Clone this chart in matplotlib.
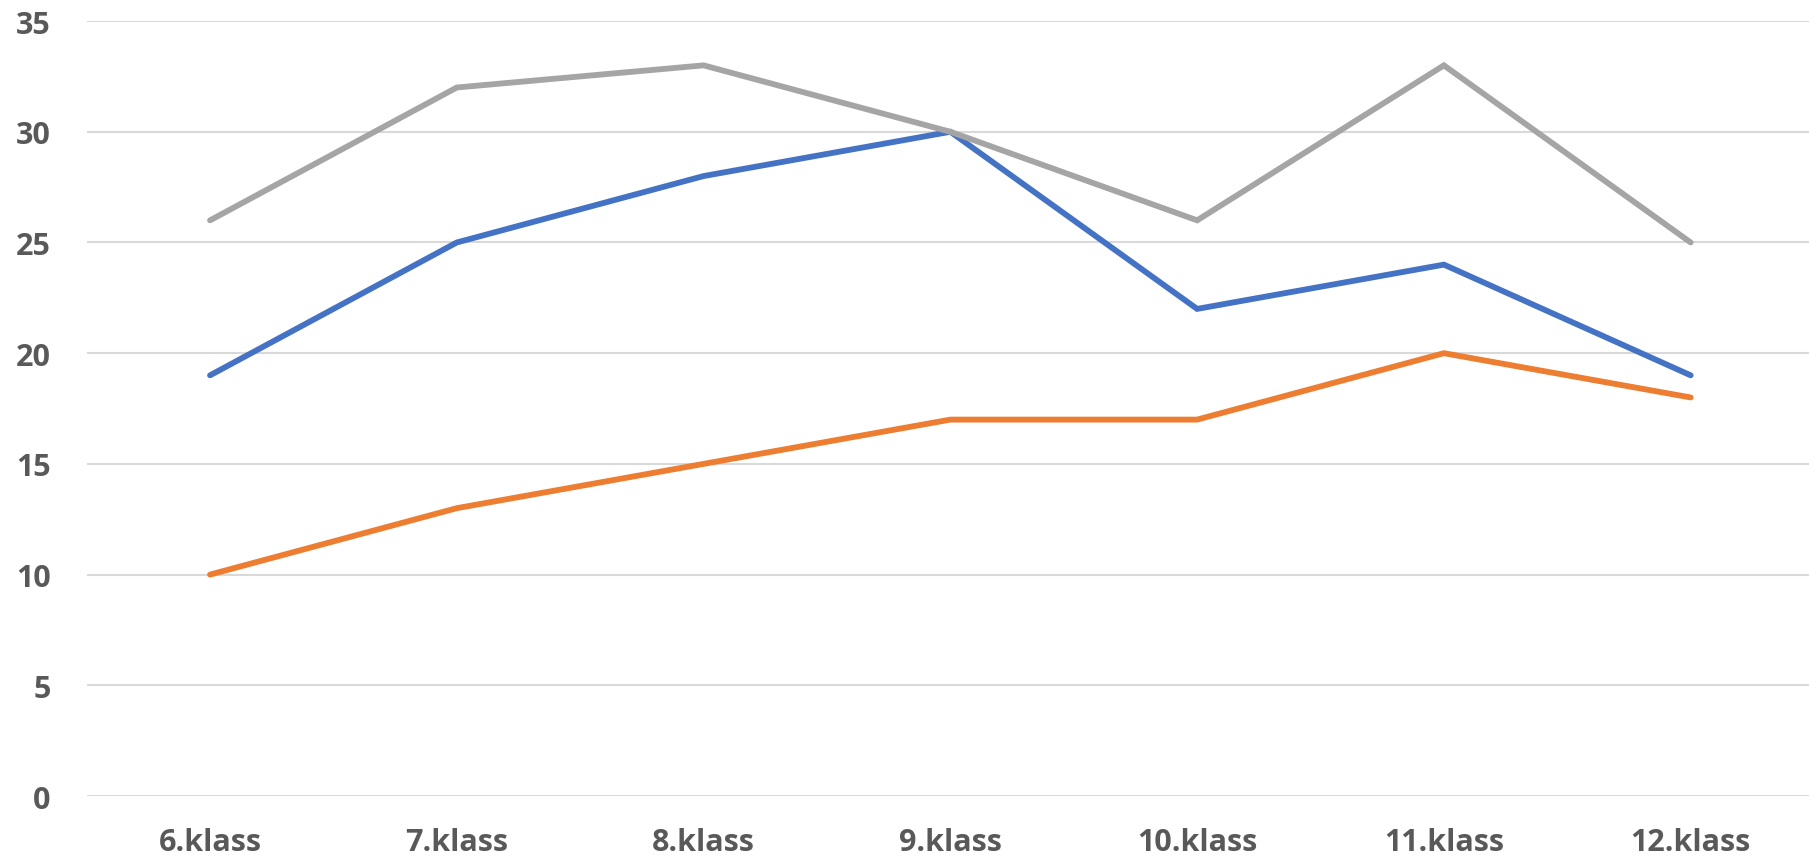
import matplotlib
matplotlib.use("Agg")
import matplotlib.pyplot as plt

CATEGORIES = ["6.klass", "7.klass", "8.klass", "9.klass", "10.klass", "11.klass", "12.klass"]
SERIES_GRAY = [26, 32, 33, 30, 26, 33, 25]
SERIES_BLUE = [19, 25, 28, 30, 22, 24, 19]
SERIES_ORANGE = [10, 13, 15, 17, 17, 20, 18]
Y_TICKS = [0, 5, 10, 15, 20, 25, 30, 35]

BLUE = "#4472C4"
ORANGE = "#ED7D31"
GRAY = "#A5A5A5"
GRID = "#D9D9D9"
TEXT = "#595959"

plt.rcParams["font.family"] = ["Open Sans", "DejaVu Sans"]

fig = plt.figure(figsize=(18.09, 8.62), dpi=100)
ax = fig.add_axes([0.0479, 0.0754, 0.9549, 0.899])

x = range(len(CATEGORIES))
for values, color in [(SERIES_BLUE, BLUE), (SERIES_ORANGE, ORANGE), (SERIES_GRAY, GRAY)]:
    ax.plot(x, values, color=color, linewidth=4.2, solid_capstyle="round",
            solid_joinstyle="miter", zorder=3)

ax.set_xlim(-0.5, len(CATEGORIES) - 0.5)
ax.set_ylim(0, 35)
ax.set_yticks(Y_TICKS)
ax.set_xticks(list(x))
ax.set_xticklabels(CATEGORIES)

ax.grid(axis="y", color=GRID, linewidth=1.5, zorder=0)
ax.set_axisbelow(True)
for spine in ax.spines.values():
    spine.set_visible(False)

ax.tick_params(axis="both", length=0, labelsize=22, labelcolor=TEXT)
ax.tick_params(axis="x", pad=22)
ax.tick_params(axis="y", pad=26)
for label in ax.get_xticklabels() + ax.get_yticklabels():
    label.set_fontweight("bold")

fig.savefig("out.png", dpi=100)
